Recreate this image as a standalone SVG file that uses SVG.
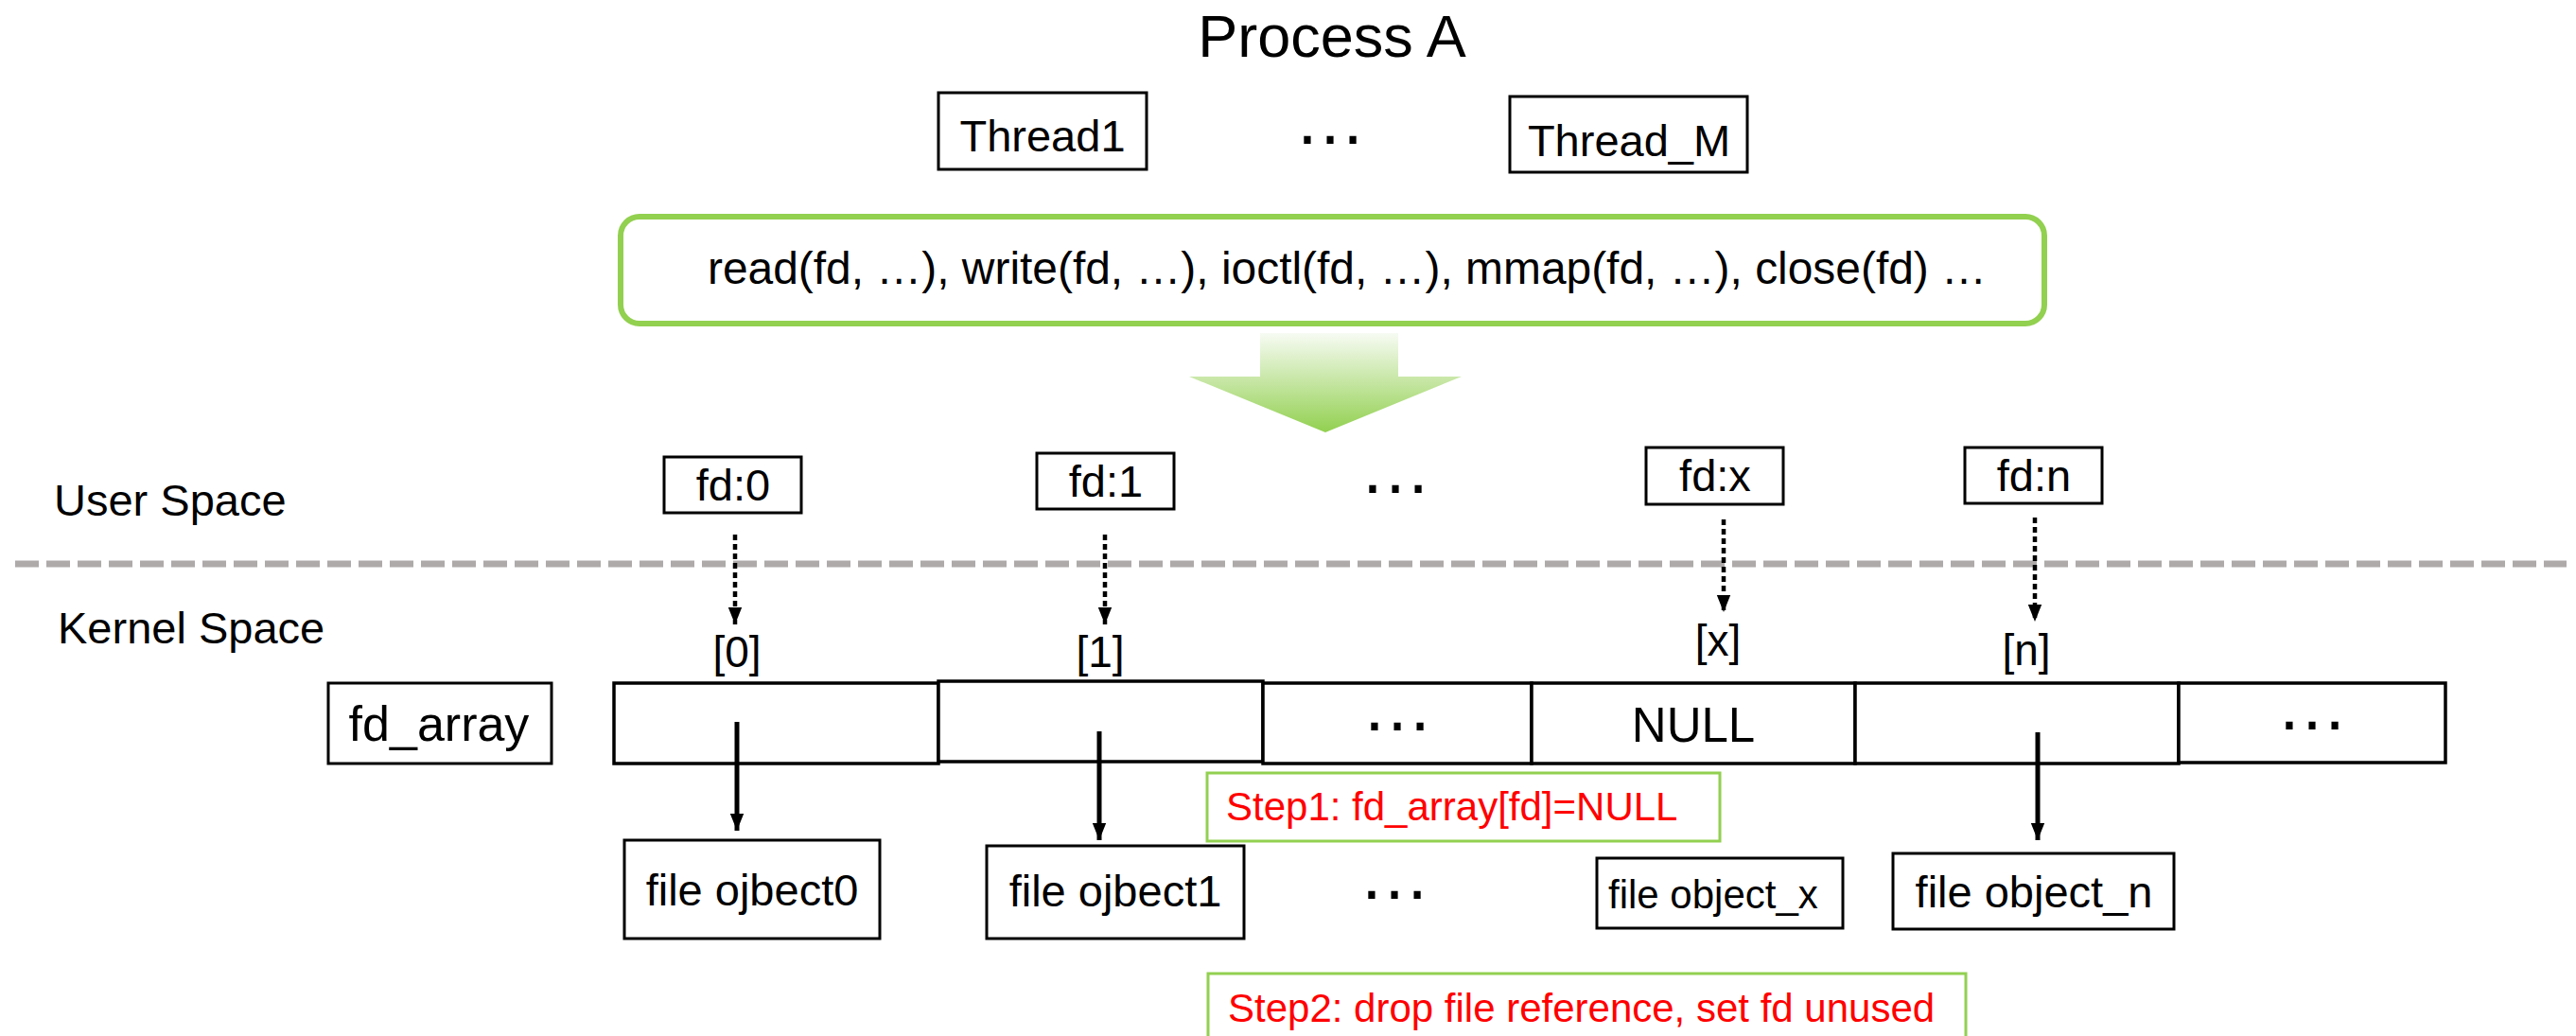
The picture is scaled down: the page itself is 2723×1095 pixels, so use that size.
<svg xmlns="http://www.w3.org/2000/svg" width="2723" height="1095" viewBox="0 0 2723 1095">
  <style>
    text { font-family: "Liberation Sans", Arial, sans-serif; fill: #000; }
    .box { fill: #fff; stroke: #000; stroke-width: 3; }
    .cell { fill: #fff; stroke: #000; stroke-width: 3.5; }
    .t47 { font-size: 47px; }
    .mid { text-anchor: middle; }
    .dots { font-size: 76px; text-anchor: middle; }
    .step { fill: #fff; stroke: #92D050; stroke-width: 3; }
    .steptxt { font-size: 42px; fill: #FF0000; }
    .ptr { stroke: #000; stroke-width: 5; fill: none; }
    .ref { stroke: #000; stroke-width: 4.5; stroke-dasharray: 6 4; fill: none; }
  </style>
  <defs>
    <marker id="head" markerUnits="userSpaceOnUse" markerWidth="18" markerHeight="20" viewBox="0 0 20 18" refX="20" refY="9" orient="auto">
      <path d="M0,1 L20,9 L0,17 Z" fill="#000"/>
    </marker>
    <linearGradient id="flow" x1="0" y1="0" x2="0" y2="1">
      <stop offset="0" stop-color="#F7FBF3"/>
      <stop offset="1" stop-color="#92D050"/>
    </linearGradient>
  </defs>

  <rect width="2723" height="1095" fill="#fff"/>

  <!-- process header -->
  <g id="process-title">
    <text x="1408" y="60" class="mid" font-size="63">Process A</text>
  </g>
  <g id="thread1">
    <rect class="box" x="992" y="98" width="220" height="81" stroke-width="2.5"/>
    <text x="1102" y="160" class="t47 mid" font-size="46">Thread1</text>
  </g>
  <g id="thread-dots">
    <text x="1406" y="152" class="dots">…</text>
  </g>
  <g id="threadM">
    <rect class="box" x="1596" y="102" width="251" height="80" stroke-width="2.5"/>
    <text x="1722" y="165" class="t47 mid">Thread_M</text>
  </g>

  <!-- system call bar -->
  <g id="syscalls">
    <rect x="656" y="229" width="1505" height="113" rx="20" ry="20" fill="#fff" stroke="#92D050" stroke-width="6"/>
    <text x="748" y="300" font-size="48" textLength="1352" lengthAdjust="spacingAndGlyphs">read(fd, …), write(fd, …), ioctl(fd, …), mmap(fd, …), close(fd) …</text>
  </g>

  <!-- flow arrow into the descriptor table -->
  <g id="flow-arrow">
    <path d="M1332,352 L1478,352 L1478,398 L1545,398 L1401,457 L1257,398 L1332,398 Z" fill="url(#flow)"/>
  </g>

  <!-- user / kernel boundary -->
  <g id="boundary">
    <line x1="16" y1="596" x2="2713" y2="596" stroke="#AEAAAA" stroke-width="7" stroke-dasharray="25 8"/>
    <text x="57" y="545" class="t47">User Space</text>
    <text x="61" y="680" class="t47">Kernel Space</text>
  </g>

  <!-- user space descriptors -->
  <g id="fd0">
    <rect class="box" x="702" y="483" width="145" height="59"/>
    <text x="775" y="529" class="t47 mid">fd:0</text>
  </g>
  <g id="fd1">
    <rect class="box" x="1096" y="479" width="145" height="59"/>
    <text x="1169" y="525" class="t47 mid">fd:1</text>
  </g>
  <g id="fd-dots">
    <text x="1475" y="521" class="dots">…</text>
  </g>
  <g id="fdx">
    <rect class="box" x="1740" y="473" width="145" height="60"/>
    <text x="1813" y="519" class="t47 mid">fd:x</text>
  </g>
  <g id="fdn">
    <rect class="box" x="2077" y="473" width="145" height="59"/>
    <text x="2150" y="519" class="t47 mid">fd:n</text>
  </g>

  <!-- slot indices -->
  <g id="indices">
    <text x="779" y="705" class="mid" font-size="46">[0]</text>
    <text x="1163" y="705" class="mid" font-size="46">[1]</text>
    <text x="1816" y="693" class="mid" font-size="46">[x]</text>
    <text x="2142" y="703" class="mid" font-size="46">[n]</text>
  </g>

  <!-- kernel fd table -->
  <g id="fd_array-label">
    <rect class="box" x="347" y="722" width="236" height="85"/>
    <text x="464" y="783" class="mid" font-size="52">fd_array</text>
  </g>
  <g id="fd_array">
    <rect class="cell" x="649" y="722" width="343" height="85"/>
    <rect class="cell" x="992" y="720" width="343" height="85"/>
    <rect class="cell" x="1335" y="722" width="284" height="85"/>
    <rect class="cell" x="1619" y="722" width="342" height="85"/>
    <rect class="cell" x="1961" y="722" width="342" height="85"/>
    <rect class="cell" x="2303" y="722" width="282" height="84"/>
    <text x="1477" y="772" class="dots">…</text>
    <text x="1790" y="784" class="mid" font-size="51">NULL</text>
    <text x="2444" y="771" class="dots">…</text>
  </g>

  <!-- file objects -->
  <g id="file-object0">
    <rect class="box" x="660" y="888" width="270" height="104"/>
    <text x="795" y="957" class="t47 mid">file ojbect0</text>
  </g>
  <g id="file-object1">
    <rect class="box" x="1043" y="894" width="272" height="98"/>
    <text x="1179" y="958" class="t47 mid">file ojbect1</text>
  </g>
  <g id="file-dots">
    <text x="1474" y="950" class="dots">…</text>
  </g>
  <g id="file-object-x">
    <rect class="box" x="1688" y="907" width="260" height="74"/>
    <text x="1700" y="960" font-size="42">file object_x</text>
  </g>
  <g id="file-object-n">
    <rect class="box" x="2001" y="902" width="297" height="80"/>
    <text x="2150" y="959" class="t47 mid">file object_n</text>
  </g>

  <!-- close() steps -->
  <g id="step1">
    <rect class="step" x="1276" y="817" width="542" height="72"/>
    <text x="1296" y="867" class="steptxt">Step1: fd_array[fd]=NULL</text>
  </g>
  <g id="step2">
    <rect class="step" x="1277" y="1029" width="801" height="90"/>
    <text x="1298" y="1080" class="steptxt">Step2: drop file reference, set fd unused</text>
  </g>

  <!-- connectors -->
  <g id="connectors">
    <line class="ref" x1="777" y1="565" x2="777" y2="660" marker-end="url(#head)"/>
    <line class="ref" x1="1168" y1="565" x2="1168" y2="660" marker-end="url(#head)"/>
    <line class="ref" x1="1822" y1="549" x2="1822" y2="647" marker-end="url(#head)"/>
    <line class="ref" x1="2151" y1="547" x2="2151" y2="657" marker-end="url(#head)"/>
    <line class="ptr" x1="779" y1="763" x2="779" y2="878" marker-end="url(#head)"/>
    <line class="ptr" x1="1162" y1="773" x2="1162" y2="888" marker-end="url(#head)"/>
    <line class="ptr" x1="2154" y1="774" x2="2154" y2="888" marker-end="url(#head)"/>
  </g>
</svg>
